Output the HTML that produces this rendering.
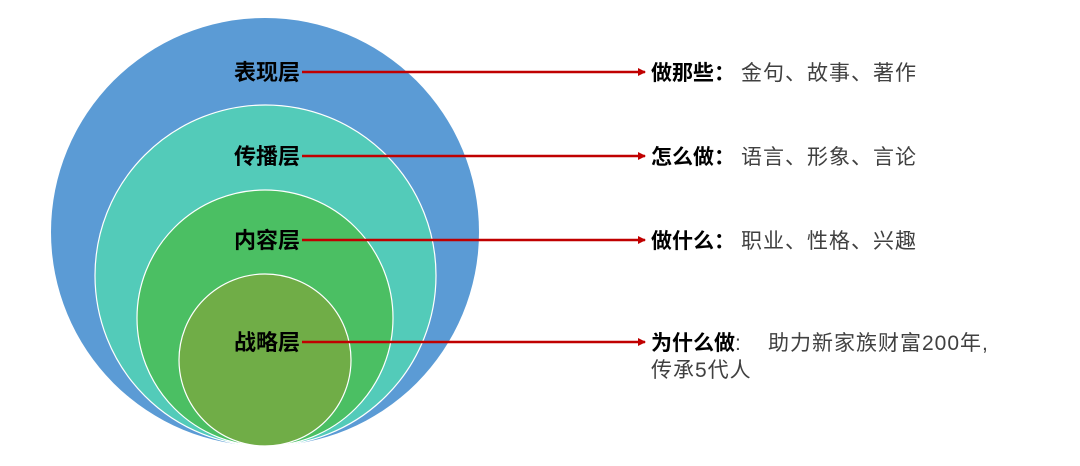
<!DOCTYPE html>
<html><head><meta charset="utf-8"><style>
body{margin:0;background:#fff;width:1080px;height:461px;overflow:hidden}
svg text{font-family:"Liberation Sans","Noto Sans CJK SC",sans-serif}
</style></head><body>
<svg width="1080" height="461" viewBox="0 0 1080 461">
<defs><marker id="a" markerWidth="8" markerHeight="8" refX="7" refY="4" orient="auto" markerUnits="userSpaceOnUse"><path d="M0,0L8,4L0,8z" fill="#c00000"/></marker></defs>
<circle cx="265" cy="232" r="214" fill="#5b9bd5"/>
<circle cx="265.5" cy="275.5" r="170.5" fill="#53cbb9" stroke="#fff" stroke-width="1.2"/>
<circle cx="265" cy="318" r="128" fill="#4bbf63" stroke="#fff" stroke-width="1.2"/>
<circle cx="265" cy="360" r="86" fill="#70ad47" stroke="#fff" stroke-width="1.2"/>
<g font-size="22" font-weight="bold" fill="#000" text-anchor="end">
<text x="300" y="80">表现层</text>
<text x="300" y="164">传播层</text>
<text x="300" y="248">内容层</text>
<text x="300" y="350">战略层</text>
</g>
<g stroke="#c00000" stroke-width="2.5" marker-end="url(#a)">
<line x1="302" y1="72" x2="645" y2="72"/>
<line x1="302" y1="156" x2="645" y2="156"/>
<line x1="302" y1="240" x2="645" y2="240"/>
<line x1="302" y1="342" x2="645" y2="342"/>
</g>
<g font-size="21" fill="#404040" letter-spacing="1">
<text x="651" y="80"><tspan font-weight="bold" fill="#000" letter-spacing="0">做那些：</tspan><tspan x="741">金句、故事、著作</tspan></text>
<text x="651" y="164"><tspan font-weight="bold" fill="#000" letter-spacing="0">怎么做：</tspan><tspan x="741">语言、形象、言论</tspan></text>
<text x="651" y="248"><tspan font-weight="bold" fill="#000" letter-spacing="0">做什么：</tspan><tspan x="741">职业、性格、兴趣</tspan></text>
<text x="651" y="350"><tspan font-weight="bold" fill="#000" letter-spacing="0">为什么做</tspan><tspan letter-spacing="0">:</tspan><tspan x="768">助力新家族财富200年,</tspan></text>
<text x="651" y="377" letter-spacing="1">传承5代人</text>
</g>
</svg>
</body></html>
